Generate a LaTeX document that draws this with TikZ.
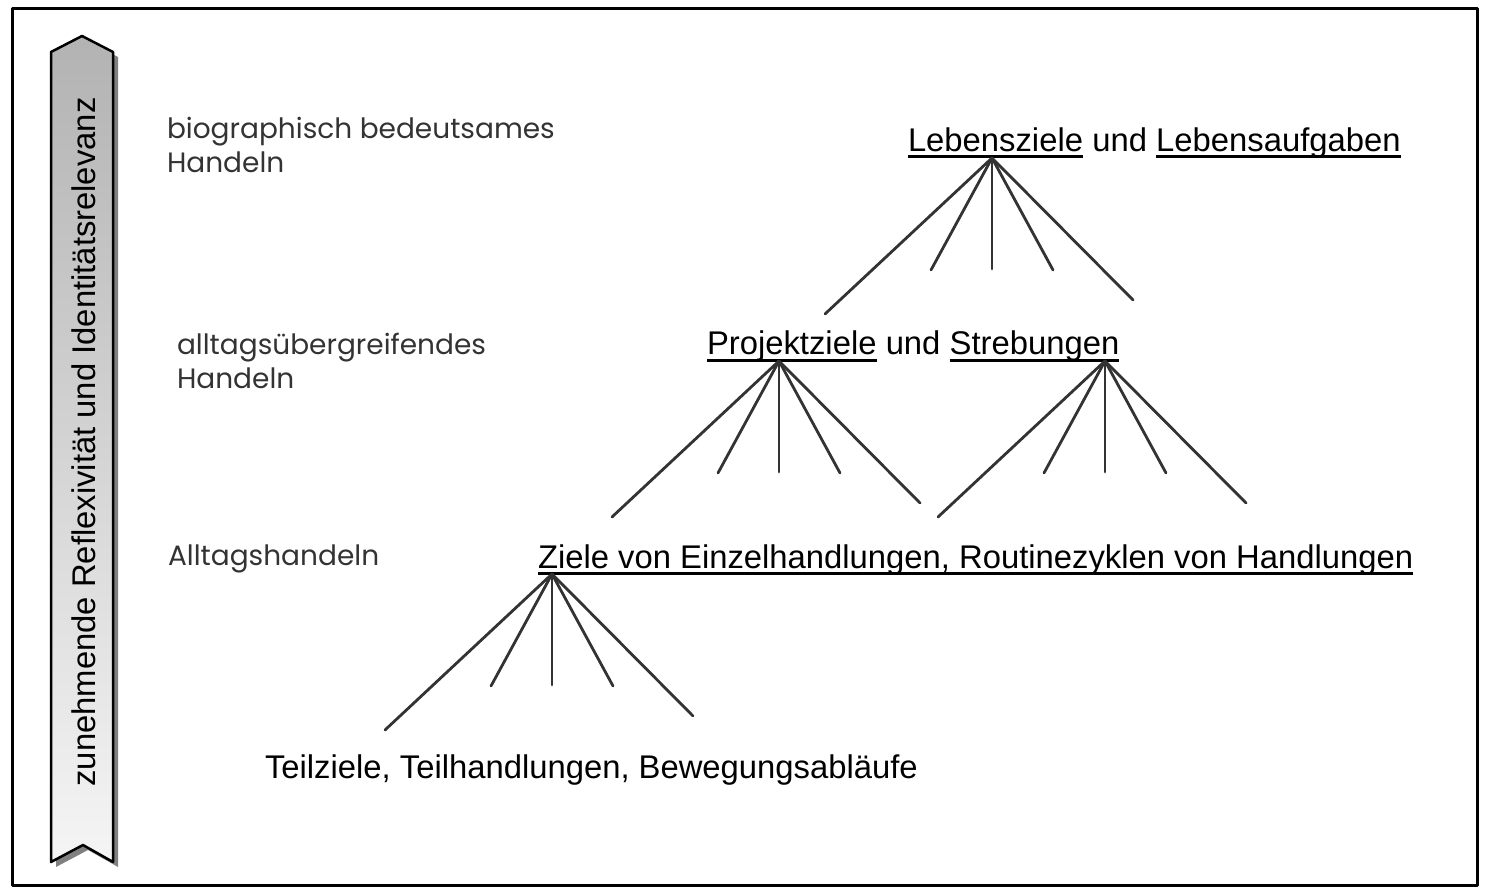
\documentclass[tikz,border=0pt]{standalone}
\usepackage{fontspec}
\setmainfont{Liberation Sans}
\newfontfamily\gothicfont{Poppins}
\usetikzlibrary{positioning,calc}
\definecolor{fangray}{rgb}{0.2,0.2,0.2}
\definecolor{shadowgray}{rgb}{0.5,0.5,0.5}
\definecolor{bartop}{rgb}{0.7,0.7,0.7}
\definecolor{barbottom}{rgb}{0.96,0.96,0.96}
\definecolor{leveltext}{rgb}{0.2,0.2,0.2}

\begin{document}
\begin{tikzpicture}[x=1pt,y=-1pt,line cap=round,line join=round,
	every node/.style={inner sep=0pt,outer sep=0pt},
	goal/.style={font=\fontsize{32.8}{39}\selectfont},
	level/.style={font=\gothicfont\fontsize{28}{34}\selectfont,text=leveltext,align=left,anchor=base west},
	uline/.style={line width=3pt,line cap=butt},
	fan/.style={line width=2.8pt,color=fangray}]
	\useasboundingbox (0,0) rectangle (1485,890);
	\draw [line width=3pt] (12,9) rectangle (1477,885);
	% scale bar on the left
	\fill [shadowgray] (56,57) -- (87,41) -- (118,57) -- (118,867) -- (88,850) -- (56,867) -- cycle;
	\shade [top color=bartop,bottom color=barbottom,draw=black,line width=2.5pt] (51,52) -- (82,36) -- (113,52) -- (113,862) -- (83,845) -- (51,862) -- cycle;
	\node [goal,rotate=90] (axis) at (84,442) {zunehmende Reflexivität und Identitätsrelevanz};
	% levels (base = last line)
	\node [level] (bio) at (167,173) {biographisch bedeutsames\\Handeln};
	\node [level] (ueber) at (177,388) {alltagsübergreifendes\\Handeln};
	\node [level] (alltag) at (168,565) {Alltagshandeln};
	% goals
	\node [goal,anchor=base west] (lz) at (908,152) {Lebensziele};
	\node [goal,base right=9.2pt of lz] (lzund) {und};
	\node [goal,base right=9.2pt of lzund] (la) {Lebensaufgaben};
	\node [goal,anchor=base west] (pz) at (707,355) {Projektziele};
	\node [goal,base right=9.2pt of pz] (pzund) {und};
	\node [goal,base right=9.2pt of pzund] (sb) {Strebungen};
	\node [goal,anchor=base west] (zh) at (538,568) {Ziele von Einzelhandlungen, Routinezyklen von Handlungen};
	\node [goal,anchor=base west] (tz) at (265,778) {Teilziele, Teilhandlungen, Bewegungsabläufe};
	\foreach \n in {lz,la,pz,sb,zh}
		\draw [uline] ([yshift=-5pt]\n.base west) -- ([yshift=-5pt]\n.base east);
	% fans
	\coordinate (lz-top) at (992,158);
	\coordinate (pz-top) at (779,361);
	\coordinate (sb-top) at (1105,361);
	\coordinate (zh-top) at (552,574);
	\foreach \o in {lz,pz,sb,zh}
		\foreach \dx/\dy [count=\i] in {-167/156,-61/112,0/111,61/112,141/142} {
			\coordinate (\o-\i) at ($(\o-top)+(\dx,\dy)$);
			\draw [fan] (\o-top) -- (\o-\i);
		}
\end{tikzpicture}
\end{document}
